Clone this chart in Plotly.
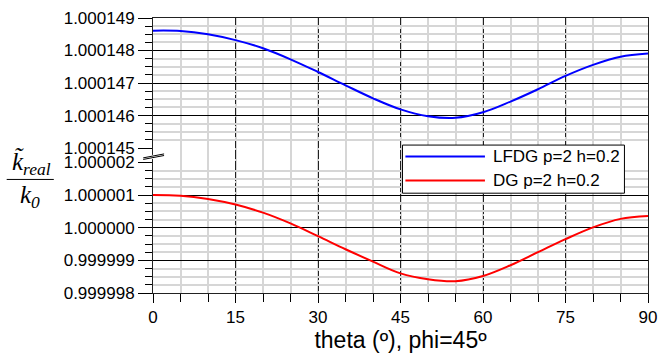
import plotly.graph_objects as go

theta = [0, 5, 10, 15, 20, 25, 30, 35, 40, 45, 50, 55, 60, 65, 70, 75, 80, 85, 90]
lfdg = [1.00014861, 1.00014860, 1.00014850, 1.00014832, 1.00014807, 1.00014773,
        1.00014734, 1.00014693, 1.00014653, 1.00014619, 1.00014598, 1.00014593,
        1.00014610, 1.00014643, 1.00014681, 1.00014722, 1.00014756, 1.00014781,
        1.00014791]
dg = [1.00000100, 1.00000098, 1.00000088, 1.00000071, 1.00000046, 1.00000013,
      0.99999974, 0.99999934, 0.99999896, 0.99999860, 0.99999842, 0.99999836,
      0.99999852, 0.99999885, 0.99999925, 0.99999965, 1.00000001, 1.00000027,
      1.00000036]
series_names = ["LFDG p=2 h=0.2", "DG p=2 h=0.2"]
series_colors = ["#0000ff", "#ff0000"]
x_ticks = [0, 15, 30, 45, 60, 75, 90]
top_range = [1.000145, 1.000149]
bot_range = [0.999998, 1.000002]

FONT = "Liberation Sans, Arial, sans-serif"
SERIF = "Liberation Serif, Times New Roman, serif"
MINOR_GRID = "#d6d6d6"

fig = go.Figure()
# full-height frame subplot (vertical grid)
fig.add_trace(go.Scatter(x=[], y=[], xaxis="x", yaxis="y", showlegend=False, hoverinfo="skip"))
fig.add_trace(go.Scatter(x=theta, y=lfdg, xaxis="x3", yaxis="y3", mode="lines",
                         line=dict(color=series_colors[0], width=2, shape="spline"),
                         name=series_names[0], showlegend=False))
fig.add_trace(go.Scatter(x=theta, y=dg, xaxis="x2", yaxis="y2", mode="lines",
                         line=dict(color=series_colors[1], width=2, shape="spline"),
                         name=series_names[1], showlegend=False))

ydom_bot = [0, 0.475]
ydom_top = [0.527, 1]

fig.update_layout(
    width=666, height=360,
    margin=dict(l=153, r=9, t=13, b=67),
    paper_bgcolor="white", plot_bgcolor="rgba(0,0,0,0)",
    font=dict(family=FONT, size=17, color="black"),
    showlegend=False,
    xaxis=dict(domain=[0, 1], anchor="y", range=[0, 90], tickmode="array",
               tickvals=x_ticks, ticks="outside", ticklen=9, tickcolor="black",
               showline=True, linecolor="#222", linewidth=1, mirror=True,
               showgrid=True, gridcolor="#222", griddash="9px,2px", gridwidth=1,
               zeroline=False,
               minor=dict(dtick=5, tick0=0, ticks="outside", ticklen=8,
                          tickcolor="black", showgrid=True, gridcolor=MINOR_GRID,
                          gridwidth=1.5, griddash="solid"),
               tickfont=dict(size=17),
               title=dict(text="theta (º), phi=45º", font=dict(size=23), standoff=5)),
    yaxis=dict(domain=[0, 1], anchor="x", range=[0, 1], showticklabels=False,
               ticks="", showgrid=False, zeroline=False, showline=True,
               linecolor="#222", linewidth=1, mirror=True),
    xaxis2=dict(anchor="y2", matches="x", range=[0, 90], showticklabels=False,
                showgrid=False, zeroline=False, ticks=""),
    yaxis2=dict(domain=ydom_bot, anchor="x2", range=bot_range, tickmode="linear",
                tick0=0.999998, dtick=1e-6, tickformat=".6f", ticks="outside",
                ticklen=14, tickcolor="black", showgrid=True, gridcolor="black",
                gridwidth=1, zeroline=False, showline=False,
                minor=dict(dtick=0.25e-6, tick0=0.999998, ticks="outside", ticklen=7,
                           tickcolor="black", showgrid=True, gridcolor=MINOR_GRID,
                           gridwidth=1.5, griddash="solid")),
    xaxis3=dict(anchor="y3", matches="x", range=[0, 90], showticklabels=False,
                showgrid=False, zeroline=False, ticks=""),
    yaxis3=dict(domain=ydom_top, anchor="x3", range=top_range, tickmode="linear",
                tick0=1.000145, dtick=1e-6, tickformat=".6f", ticks="outside",
                ticklen=14, tickcolor="black", showgrid=True, gridcolor="black",
                gridwidth=1, zeroline=False, showline=False,
                minor=dict(dtick=0.25e-6, tick0=1.000145, ticks="outside", ticklen=7,
                           tickcolor="black", showgrid=True, gridcolor=MINOR_GRID,
                           gridwidth=1.5, griddash="solid")),
)

# axis break marks
fig.add_shape(type="line", xref="paper", yref="paper", x0=-0.0198, x1=0.0224,
              y0=0.4885, y1=0.5028, line=dict(color="white", width=4))
fig.add_shape(type="line", xref="paper", yref="paper", x0=-0.0198, x1=0.0224,
              y0=0.4914, y1=0.5057, line=dict(color="black", width=1))
fig.add_shape(type="line", xref="paper", yref="paper", x0=-0.0198, x1=0.0224,
              y0=0.4857, y1=0.5, line=dict(color="black", width=1))

# legend box (drawn manually)
fig.add_shape(type="rect", xref="paper", yref="paper", x0=0.504, x1=0.9524,
              y0=0.3629, y1=0.5379, fillcolor="white",
              line=dict(color="black", width=1), layer="above")
leg_y = [0.4964, 0.4093]
for name, col, yy in zip(series_names, series_colors, leg_y):
    fig.add_shape(type="line", xref="paper", yref="paper", x0=0.5099, x1=0.6706,
                  y0=yy, y1=yy, line=dict(color=col, width=2), layer="above")
    fig.add_annotation(xref="paper", yref="paper", x=0.683, y=yy, text=name,
                       showarrow=False, xanchor="left", yanchor="middle",
                       font=dict(size=17))

# y-axis label as fraction
fig.add_annotation(xref="paper", yref="paper", x=-0.245, y=0.47, showarrow=False,
                   text="<i>k\u0303<sub>real</sub></i>",
                   font=dict(family=SERIF, size=25), xanchor="center", yanchor="middle")
fig.add_shape(type="line", xref="paper", yref="paper", x0=-0.2956, x1=-0.2004,
              y0=0.4129, y1=0.4129, line=dict(color="black", width=1))
fig.add_annotation(xref="paper", yref="paper", x=-0.248, y=0.352, showarrow=False,
                   text="<i>k<sub>0</sub></i>",
                   font=dict(family=SERIF, size=25), xanchor="center", yanchor="middle")

fig.write_html("out.html")
